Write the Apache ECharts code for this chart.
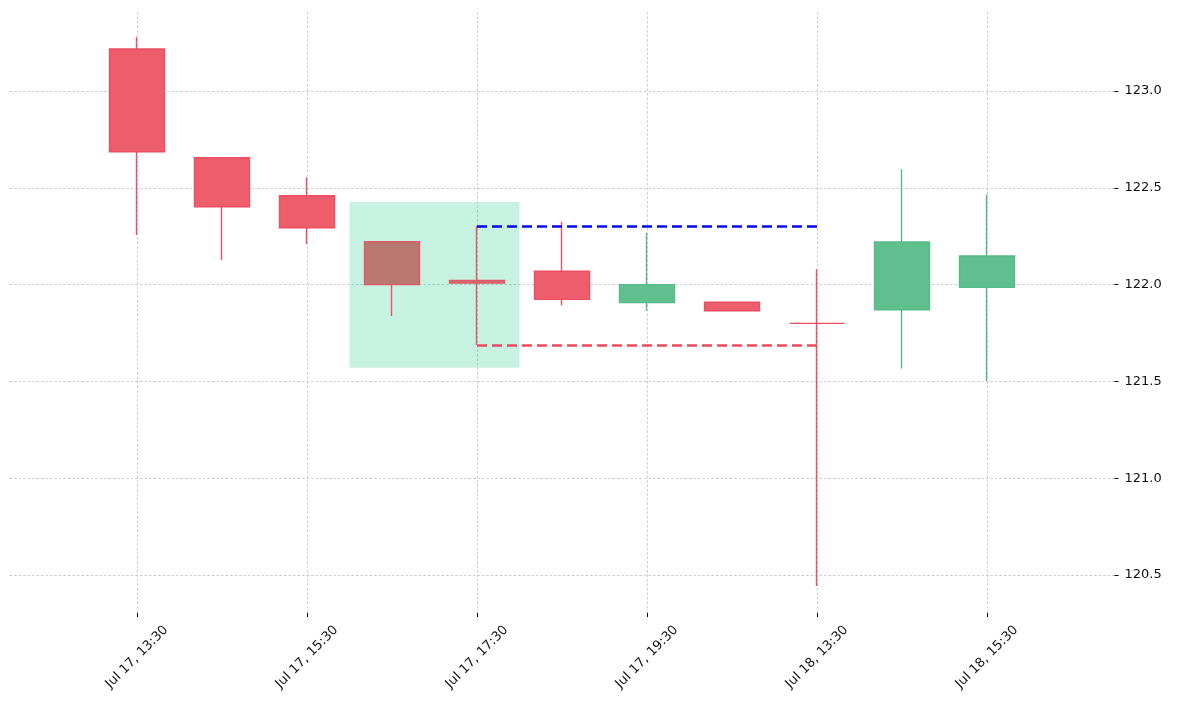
<!DOCTYPE html>
<html>
<head>
<meta charset="utf-8">
<script src="https://cdn.jsdelivr.net/npm/echarts@6/dist/echarts.min.js"></script>
<style>
  html, body { margin: 0; padding: 0; background: #fff; }
  #chart { width: 1179px; height: 705px; }
</style>
</head>
<body>
<div id="chart"></div>
<script>
// candle times (one empty slot each side, like the padding in the picture)
let categories = ['', 'Jul 17, 13:30', 'Jul 17, 14:30', 'Jul 17, 15:30', 'Jul 17, 16:30', 'Jul 17, 17:30',
    'Jul 17, 18:30', 'Jul 17, 19:30', 'Jul 17, 20:30', 'Jul 18, 13:30', 'Jul 18, 14:30', 'Jul 18, 15:30', ''];
let openData  = [null, 123.217, 122.655, 122.459, 122.222, 122.021, 122.069, 121.907, 121.909, 121.800, 121.870, 121.986, null];
let closeData = [null, 122.686, 122.402, 122.294, 122.000, 122.008, 121.924, 122.000, 121.865, 121.800, 122.220, 122.148, null];
let lowData   = [null, 122.256, 122.127, 122.208, 121.838, 121.688, 121.894, 121.865, 121.865, 120.443, 121.567, 121.502, null];
let highData  = [null, 123.279, 122.655, 122.554, 122.222, 122.303, 122.325, 122.268, 121.909, 122.079, 122.596, 122.466, null];
let yTicks = [120.5, 121.0, 121.5, 122.0, 122.5, 123.0];
// pattern candles and the box around them (box x in slot units: 4..6)
let patternIdx = [4, 5];
let boxX = [4, 6];
let boxY = [122.427, 121.571];
let resistance = 122.303;
let support = 121.688;
let levelFrom = 'Jul 17, 17:30';
let levelTo = 'Jul 18, 13:30';

let up = '#60bf8f', down = '#ee5d6b';
let gridStyle = { color: '#b8b8b8', width: 0.7, type: [2.5, 2] };
let every2 = function (i) { return i % 2 === 1; };

let candles = categories.map(function (c, i) {
    if (openData[i] === null) return '-';
    let item = { value: [openData[i], closeData[i], lowData[i], highData[i]] };
    if (patternIdx.indexOf(i) >= 0) {
        item.itemStyle = { color0: '#b8776f', borderColor0: '#e6566a' };
    }
    return item;
});

let chart = echarts.init(document.getElementById('chart'));
let option = {
    animation: false,
    grid: { left: 9.5, right: 64.5, top: 12, bottom: 92 },
    xAxis: [{
        type: 'category',
        data: categories,
        boundaryGap: true,
        axisLine: { show: false },
        axisTick: { show: true, alignWithLabel: true, interval: every2, length: 4, lineStyle: { color: '#000' } },
        axisLabel: {
            interval: every2, rotate: 45, align: 'center', verticalAlign: 'middle', margin: 44,
            color: '#111', fontSize: 13, fontFamily: 'DejaVu Sans'
        },
        splitLine: { show: true, alignWithLabel: true, interval: every2, lineStyle: gridStyle }
    }, {
        type: 'value', min: 0, max: 13, show: false
    }],
    yAxis: {
        type: 'value',
        position: 'right',
        min: 120.304,
        max: 123.408,
        axisLine: { show: false, onZero: false },
        axisTick: { show: true, customValues: yTicks, length: 4, lineStyle: { color: '#000' } },
        axisLabel: {
            customValues: yTicks, margin: 10, color: '#111', fontSize: 13, fontFamily: 'DejaVu Sans',
            formatter: function (v) { return v.toFixed(1); }
        },
        splitLine: { show: true, lineStyle: gridStyle }
    },
    series: [{
        type: 'line',
        xAxisIndex: 1,
        data: [],
        z: 1,
        markArea: {
            silent: true,
            itemStyle: { color: 'rgba(0,195,120,0.22)' },
            data: [[{ coord: [boxX[0], boxY[0]] }, { coord: [boxX[1], boxY[1]] }]]
        }
    }, {
        type: 'candlestick',
        barWidth: 55,
        z: 3,
        itemStyle: {
            color: up, color0: down,
            borderColor: '#55bc88', borderColor0: '#ec4e62',
            borderWidth: 1.4
        },
        data: candles,
        markLine: {
            silent: true,
            symbol: 'none',
            label: { show: false },
            data: [
                [{ coord: [levelFrom, resistance], lineStyle: { color: '#0508f5' } }, { coord: [levelTo, resistance] }],
                [{ coord: [levelFrom, support], lineStyle: { color: '#f04a5c' } }, { coord: [levelTo, support] }]
            ],
            lineStyle: { width: 2.6, type: [10, 5], opacity: 1 }
        }
    }]
};
chart.setOption(option);
</script>
</body>
</html>
